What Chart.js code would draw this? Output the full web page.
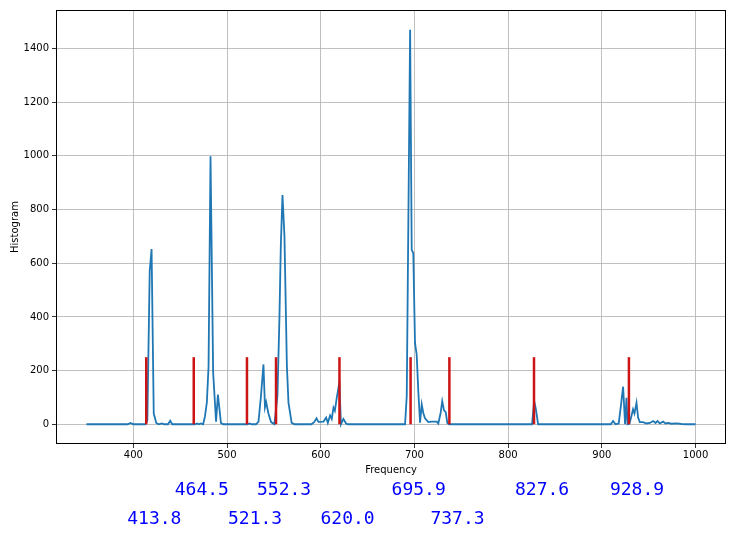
<!DOCTYPE html>
<html>
<head>
<meta charset="utf-8">
<script src="https://cdn.jsdelivr.net/npm/chart.js@4.4.1/dist/chart.umd.min.js"></script>
<style>
  html, body { margin: 0; padding: 0; background: #fff; }
  canvas { display: block; }
</style>
</head>
<body>
<canvas id="histChart" width="737" height="540"></canvas>
<script>
// histogram curve
const freqs = [
    350, 394, 397, 400, 413, 415, 417.5, 419.5, 421.8, 424.5, 427, 430.5, 433, 437, 439.4, 441.5,
    466, 468, 470, 472, 474.5, 476.5, 478.5, 480.3, 482.4, 485.2, 488.3, 490.3, 493.5, 496,
    522, 524, 526, 531, 533.6, 536.1, 538.9, 540.5, 541.8, 544.2, 547, 550.5,
    553.8, 555.9, 557.4, 559.2, 561.3, 563.9, 565.6, 569, 572,
    590, 593, 595.5, 597.6, 603, 605.8, 607.6, 610, 611.8, 613.6, 615.1, 617.2, 619.9, 621.6, 624.2, 627, 629,
    690, 691.8, 695.4, 697.1, 698.8, 700.6, 702.4, 704.2, 706, 707.8, 709.5, 711.3, 714.8, 718.4,
    723.8, 725.5, 728, 729.7, 731.6, 733.4, 735.1, 737,
    825.5, 827.8, 829.6, 832,
    909.6, 912, 914.6, 918, 920.3, 922.7, 924.8, 926.3, 927.4, 929.5, 931.6, 933.3, 934.8, 937, 938.7,
    940.5, 944, 947.6, 951.2, 954.8, 957.3, 959.4, 961.8, 965.4, 967.9, 970.7, 974.3, 979.6, 985, 990, 1000
];
const counts = [
    0, 0, 5, 0, 0, 15, 570, 653, 40, 5, 0, 3, 0, 0, 13, 0,
    0, 3, 0, 3, 0, 30, 82, 216, 999, 193, 10, 111, 5, 0,
    0, 3, 0, 0, 10, 100, 223, 63, 82, 40, 8, 0,
    105, 390, 662, 854, 700, 216, 80, 5, 0,
    0, 8, 22, 9, 10, 25, 5, 33, 20, 62, 50, 100, 155, 0, 20, 3, 0,
    0, 105, 1470, 650, 637, 303, 260, 119, 6, 74, 41, 22, 8, 10,
    10, 3, 43, 86, 52, 45, 5, 0,
    0, 87, 56, 0,
    0, 12, 0, 3, 68, 140, 0, 99, 0, 3, 31, 56, 40, 80, 25,
    8, 8, 3, 5, 12, 5, 12, 3, 10, 3, 5, 2, 3, 1, 0, 0
];

// detected peaks (red markers + blue labels)
const peakFreqs = [413.8, 464.5, 521.3, 552.3, 620.0, 695.9, 737.3, 827.6, 928.9];
const markerTop = 250;

const xTicks = [400, 500, 600, 700, 800, 900, 1000];
const yTicks = [0, 200, 400, 600, 800, 1000, 1200, 1400];

// matplotlib style 5% margins
const xSpan = Math.max(...freqs) - Math.min(...freqs);
const ySpan = Math.max(...counts) - Math.min(...counts);
const xMin = Math.min(...freqs) - xSpan * 0.05;
const xMax = Math.max(...freqs) + xSpan * 0.05;
const yMin = Math.min(...counts) - ySpan * 0.05;
const yMax = Math.max(...counts) + ySpan * 0.05;

const curve = freqs.map((f, i) => ({ x: f, y: counts[i] }));

const markerSets = peakFreqs.map(f => ({
    data: [{ x: f, y: 0 }, { x: f, y: markerTop }],
    showLine: true,
    borderColor: '#cc1414',
    borderWidth: 2.5,
    pointRadius: 0,
    order: 0
}));

const tickFont = { family: 'DejaVu Sans', size: 10 };

// box around the plot area
const frame = {
    id: 'frame',
    afterDatasetsDraw(chart) {
        const { ctx, chartArea: a } = chart;
        ctx.save();
        ctx.strokeStyle = '#000';
        ctx.lineWidth = 1;
        ctx.strokeRect(a.left + 0.5, a.top + 0.5, a.right - a.left - 1, a.bottom - a.top - 1);
        ctx.restore();
    }
};

// peak values written under the axis, in two rows
const peakLabels = {
    id: 'peakLabels',
    afterDraw(chart) {
        const { ctx } = chart;
        const x = chart.scales.x;
        ctx.save();
        ctx.font = '18px "DejaVu Sans Mono"';
        ctx.fillStyle = '#0000ff';
        ctx.textAlign = 'left';
        ctx.textBaseline = 'middle';
        let row = 0, prev = null;
        peakFreqs.forEach(f => {
            row = (prev !== null && f - prev > 80) ? 0 : (row === 0 ? 1 : 0);
            prev = f;
            const px = x.getPixelForValue(f) - 19;
            const py = row === 0 ? 490 : 519;
            ctx.fillText(f.toFixed(1), px, py);
        });
        ctx.restore();
    }
};

new Chart(document.getElementById('histChart'), {
    type: 'scatter',
    data: {
        datasets: [{
            data: curve,
            showLine: true,
            borderColor: '#1f77b4',
            borderWidth: 1.8,
            pointRadius: 0,
            tension: 0,
            order: 1
        }, ...markerSets]
    },
    options: {
        responsive: false,
        animation: false,
        layout: { padding: { top: 10, right: 11, left: 0, bottom: 0 } },
        plugins: {
            legend: { display: false },
            tooltip: { enabled: false }
        },
        scales: {
            x: {
                type: 'linear',
                min: xMin,
                max: xMax,
                afterBuildTicks: s => { s.ticks = xTicks.map(v => ({ value: v })); },
                afterFit: s => { s.height = 96; },
                ticks: { color: '#000', font: tickFont, padding: 1, maxRotation: 0, callback: v => String(v) },
                grid: { color: '#b0b0b0', lineWidth: 0.8, tickColor: '#000', tickLength: 4 },
                border: { display: false },
                title: {
                    display: true,
                    text: 'Frequency',
                    color: '#000',
                    font: tickFont,
                    padding: { top: 2, bottom: 64 }
                }
            },
            y: {
                type: 'linear',
                min: yMin,
                max: yMax,
                afterBuildTicks: s => { s.ticks = yTicks.map(v => ({ value: v })); },
                afterFit: s => { s.width = 56; },
                ticks: { color: '#000', font: tickFont, padding: 3, callback: v => String(v) },
                grid: { color: '#b0b0b0', lineWidth: 0.8, tickColor: '#000', tickLength: 4 },
                border: { display: false },
                title: {
                    display: true,
                    text: 'Histogram',
                    color: '#000',
                    font: tickFont,
                    padding: { top: 9, bottom: 0 }
                }
            }
        }
    },
    plugins: [frame, peakLabels]
});
</script>
</body>
</html>
